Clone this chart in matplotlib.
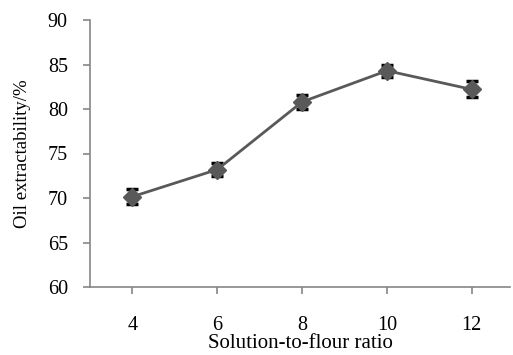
import matplotlib
matplotlib.use("Agg")
import matplotlib.pyplot as plt

categories = ["4", "6", "8", "10", "12"]
values = [70.15, 73.2, 80.8, 84.3, 82.2]
errors = [0.85, 0.7, 0.8, 0.65, 0.9]
yticks = [60, 65, 70, 75, 80, 85, 90]

plt.rcParams['font.family'] = ['Liberation Serif', 'DejaVu Serif']

fig = plt.figure(figsize=(5.13, 3.55), dpi=100)
ax = fig.add_axes([90/513, 1-287/355, (510-90)/513, (287-20)/355])

x = list(range(len(categories)))
ax.errorbar(x, values, yerr=errors, fmt='none', ecolor='black', elinewidth=1.5,
            capsize=4, capthick=2.5, zorder=2)
ax.plot(x, values, color='#595959', lw=2, marker='D', markersize=9,
        markerfacecolor='#595959', markeredgecolor='#595959', zorder=3)

ax.set_xlim(-0.5, 4.45)
ax.set_ylim(60, 90)
ax.set_xticks(x)
ax.set_xticklabels(categories)
ax.set_yticks(yticks)
for s in ['top', 'right']:
    ax.spines[s].set_visible(False)
for s in ['left', 'bottom']:
    ax.spines[s].set_color('#868686')
    ax.spines[s].set_linewidth(1.2)
ax.tick_params(axis='both', colors='#868686', labelcolor='black', labelsize=14.5,
               direction='out', length=5, width=1.2)
ax.tick_params(axis='y', pad=11)
ax.tick_params(axis='x', pad=16)
ax.set_xlabel('Solution-to-flour ratio', fontsize=15, labelpad=-1)
ax.set_ylabel('Oil extractability/%', fontsize=13.5, labelpad=12)

fig.savefig('out.png', dpi=100)
